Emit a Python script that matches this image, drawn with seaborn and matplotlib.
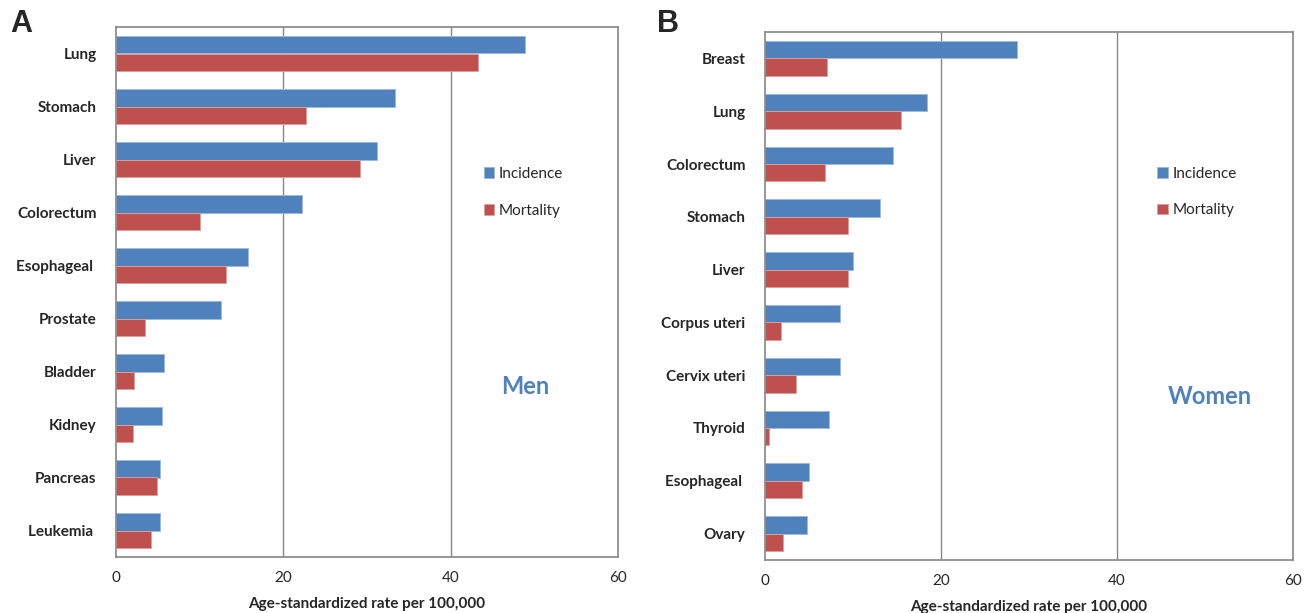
import pandas as pd
import matplotlib.pyplot as plt
import matplotlib.colors as mcolors
import seaborn as sns

##Values (age-standardized rate per 100,000)
men_sites = ['Lung', 'Stomach', 'Liver', 'Colorectum', 'Esophageal ', 'Prostate',
             'Bladder', 'Kidney', 'Pancreas', 'Leukemia ']
men_incidence = [48.9, 33.4, 31.2, 22.2, 15.8, 12.6, 5.7, 5.5, 5.2, 5.2]
men_mortality = [43.3, 22.7, 29.2, 10.0, 13.2, 3.5, 2.2, 2.0, 4.9, 4.2]

women_sites = ['Breast', 'Lung', 'Colorectum', 'Stomach', 'Liver', 'Corpus uteri',
               'Cervix uteri', 'Thyroid', 'Esophageal ', 'Ovary']
women_incidence = [28.6, 18.4, 14.6, 13.1, 10.0, 8.5, 8.5, 7.3, 5.0, 4.8]
women_mortality = [7.0, 15.4, 6.8, 9.4, 9.4, 1.8, 3.5, 0.5, 4.2, 2.1]

xticks = [0, 20, 40, 60]
palette = {'Incidence': '#4F81BD', 'Mortality': '#C0504D'}

sns.set_style('white')
plt.rcParams['font.family'] = ['Lato', 'DejaVu Sans']


def long_df(sites, inc, mort):
    df = pd.DataFrame({'Site': sites, 'Incidence': inc, 'Mortality': mort})
    return df.melt(id_vars='Site', var_name='Measure', value_name='Rate')


W, H = 1305, 613
fig = plt.figure(figsize=(W / 100, H / 100), dpi=100)
axA = fig.add_axes([116 / W, 1 - 557 / H, 502 / W, 530 / H])
axB = fig.add_axes([765 / W, 1 - 560 / H, 528 / W, 528 / H])

panels = [(axA, men_sites, men_incidence, men_mortality, 'Men', 'A', 10,
           (0.815, 0.322), (0.705, 0.688)),
          (axB, women_sites, women_incidence, women_mortality, 'Women', 'B', 657,
           (0.843, 0.31), (0.717, 0.697))]

for ax, sites, inc, mort, who, letter, lx, pos, legpos in panels:
    df = long_df(sites, inc, mort)
    sns.barplot(data=df, y='Site', x='Rate', hue='Measure', palette=palette,
                orient='h', width=0.66, ax=ax, saturation=1, linewidth=0.7)
    # light rim around each bar, like the original
    for p in ax.patches:
        fc = mcolors.to_rgb(p.get_facecolor())
        p.set_edgecolor(tuple(0.55 * c + 0.45 for c in fc))
    ax.set_xlim(0, 60)
    ax.set_ylim(9.5, -0.5)
    ax.set_xticks(xticks)
    ax.set_xticklabels([str(t) for t in xticks], fontsize=11)
    ax.set_ylabel('')
    ax.set_xlabel('Age-standardized rate per 100,000', fontsize=11, fontweight='bold',
                  labelpad=9)
    for lab in ax.get_yticklabels():
        lab.set_fontweight('bold')
        lab.set_fontsize(11)
    ax.tick_params(axis='y', length=0, pad=14)
    ax.tick_params(axis='x', length=4, color='#868686', pad=6)
    for t in [20, 40]:
        ax.axvline(t, color='#868686', lw=1, zorder=0)
    for s in ax.spines.values():
        s.set_color('#868686')
        s.set_linewidth(1.2)
    ax.legend(loc='center left', bbox_to_anchor=legpos, frameon=False,
              fontsize=11, handlelength=0.7, handleheight=0.7, handletextpad=0.3,
              labelspacing=1.5)
    ax.text(pos[0], pos[1], who, transform=ax.transAxes, color='#4F81BD',
            fontsize=17, fontweight='bold', ha='center', va='center')
    fig.text(lx / W, 1 - 24 / H, letter, fontsize=22, fontweight='bold',
             family='Liberation Sans', ha='left', va='center')

fig.savefig('out.png', dpi=100)
